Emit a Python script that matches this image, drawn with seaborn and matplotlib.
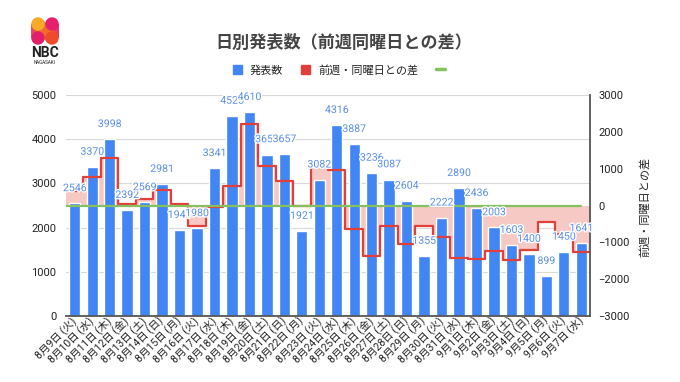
import numpy as np
import pandas as pd
import matplotlib
matplotlib.use("Agg")
import matplotlib.pyplot as plt
import matplotlib.patheffects as pe
import seaborn as sns
from matplotlib.patches import Patch, Circle, Polygon, Rectangle
from matplotlib.lines import Line2D

# daily counts 8/9 .. 9/7 (2022)
days = ["8月9日", "8月10日", "8月11日", "8月12日", "8月13日", "8月14日", "8月15日",
        "8月16日", "8月17日", "8月18日", "8月19日", "8月20日", "8月21日", "8月22日",
        "8月23日", "8月24日", "8月25日", "8月26日", "8月27日", "8月28日", "8月29日",
        "8月30日", "8月31日", "9月1日", "9月2日", "9月3日", "9月4日", "9月5日",
        "9月6日", "9月7日"]
weekdays = ["火", "水", "木", "金", "土", "日", "月"] * 4 + ["火", "水"]
counts = [2546, 3370, 3998, 2392, 2569, 2981, 1941,
          1980, 3341, 4525, 4610, 3653, 3657, 1921,
          3082, 4316, 3887, 3236, 3087, 2604, 1355,
          2222, 2890, 2436, 2003, 1603, 1400, 899,
          1450, 1641]
# difference from same weekday of previous week
diff_prev_week = [390, 782, 1281, 50, 170, 410, 40,
                  -566, -29, 527, 2218, 1084, 676, -20,
                  1102, 975, -638, -1374, -566, -1053, -566,
                  -860, -1426, -1451, -1233, -1484, -1204, -456,
                  -772, -1249]
zero_line = [0] * (len(counts) + 1)

BLUE = "#4285f4"
LABEL_BLUE = "#5b8ee6"
RED = "#e0403a"
PINK = "#f7c9c4"
GREEN = "#86c15f"
TEXT = "#222222"

sns.set_theme(style="white")
plt.rcParams["font.family"] = ["Roboto", "Noto Sans CJK JP", "DejaVu Sans"]

df = pd.DataFrame({"day": [f"{d} ({w})" for d, w in zip(days, weekdays)],
                   "count": counts})
n = len(df)
x = np.arange(n)
x_edges = np.arange(n + 1) - 0.5
diff_ext = np.append(diff_prev_week, diff_prev_week[-1])

fig = plt.figure(figsize=(6.8, 3.82), dpi=100)
ax = fig.add_axes([66 / 680, 66 / 382, 524 / 680, 221 / 382])
sns.barplot(data=df, x="day", y="count", color=BLUE, saturation=1, width=0.65, ax=ax, zorder=1)
ax2 = ax.twinx()
ax.set_xlim(-0.5, n - 0.5)
ax.set_ylim(0, 5000)
ax2.set_ylim(-3000, 3000)

# pink area behind bars, drawn in right-axis units
ax.fill_between(x_edges, diff_ext, 0, step="post", color=PINK, lw=0,
                transform=ax2.transData, zorder=0.8)
ax2.step(x_edges, diff_ext, where="post", color=RED, lw=1.6, solid_joinstyle="round", zorder=2)
ax2.plot(np.r_[x_edges[0], x], zero_line, color=GREEN, lw=1.6, zorder=2)

for i, v in enumerate(counts):
    ax2.annotate(str(v), xy=(i, v), xycoords=ax.transData, xytext=(0, 11),
                 textcoords="offset points", ha="center", va="center",
                 fontsize=7.6, color=LABEL_BLUE, zorder=5,
                 path_effects=[pe.withStroke(linewidth=2, foreground="white")])

ax.set_yticks(range(0, 5001, 1000))
ax2.set_yticks(range(-3000, 3001, 1000))
ax.yaxis.grid(True, color="#d9d9d9", lw=0.8)
ax.set_axisbelow(True)
ax.set_xlabel("")
ax.set_ylabel("")
ax.tick_params(axis="y", length=0, pad=7, labelsize=8, labelcolor=TEXT)
ax.tick_params(axis="x", length=0, pad=2, labelsize=7.6, labelcolor=TEXT)
ax2.tick_params(axis="y", length=0, pad=6, labelsize=8, labelcolor=TEXT)
plt.setp(ax.get_xticklabels(), rotation=45, ha="right", va="center", rotation_mode="anchor")

for s in ["left", "top", "right"]:
    ax.spines[s].set_visible(False)
for s in ["left", "top", "bottom"]:
    ax2.spines[s].set_visible(False)
ax.spines["bottom"].set_color("#555555")
ax.spines["bottom"].set_linewidth(1.3)
ax2.spines["right"].set_color("#555555")
ax2.spines["right"].set_linewidth(1.3)

fig.text(645 / 680, 1 - 207 / 382, "前週・同曜日との差", rotation=90, ha="center", va="center",
         fontsize=8, color=TEXT)

fig.text(344 / 680, 1 - 42 / 382, "日別発表数（前週同曜日との差）", ha="center", va="center",
         fontsize=12.3, fontweight="bold", color="#444444")

handles = [Patch(color=BLUE, label="発表数"),
           Patch(color=RED, label="前週・同曜日との差"),
           Line2D([], [], color=GREEN, lw=2.5, label="")]
fig.legend(handles=handles, loc="center", bbox_to_anchor=(343 / 680, 1 - 70 / 382), ncol=3,
           frameon=False, fontsize=8, handlelength=0.8, handleheight=0.8,
           columnspacing=1.6, handletextpad=0.7, labelcolor=TEXT)

# NBC logo
lax = fig.add_axes([28 / 680, 1 - 45 / 382, 34 / 680, 28 / 382])
lax.set_xlim(0, 2)
lax.set_ylim(0, 2)
lax.set_aspect("equal")
lax.axis("off")
lax.add_patch(Rectangle((0.02, 0.5), 0.96, 1.0, color="#ec4a5c", lw=0))
lax.add_patch(Rectangle((1.02, 0.5), 0.96, 1.0, color="#e83a66", lw=0))
lax.add_patch(Polygon([(0.82, 1.82), (1.82, 0.82), (1.18, 0.18), (0.18, 1.18)], color="#f26a2e", lw=0))
lax.add_patch(Circle((0.5, 1.5), 0.48, color="#f9a928", lw=0))
lax.add_patch(Circle((1.5, 1.5), 0.48, color="#e6206e", lw=0))
lax.add_patch(Circle((0.5, 0.5), 0.48, color="#e0206a", lw=0))
lax.add_patch(Circle((1.5, 0.5), 0.48, color="#ef4b2b", lw=0))
fig.text(45 / 680, 1 - 53 / 382, "NBC", ha="center", va="center", fontsize=10,
         fontweight="bold", color="#222222")
fig.text(45 / 680, 1 - 63 / 382, "NAGASAKI", ha="center", va="center", fontsize=3.3,
         color="#222222")

fig.savefig("out.png", dpi=100)
